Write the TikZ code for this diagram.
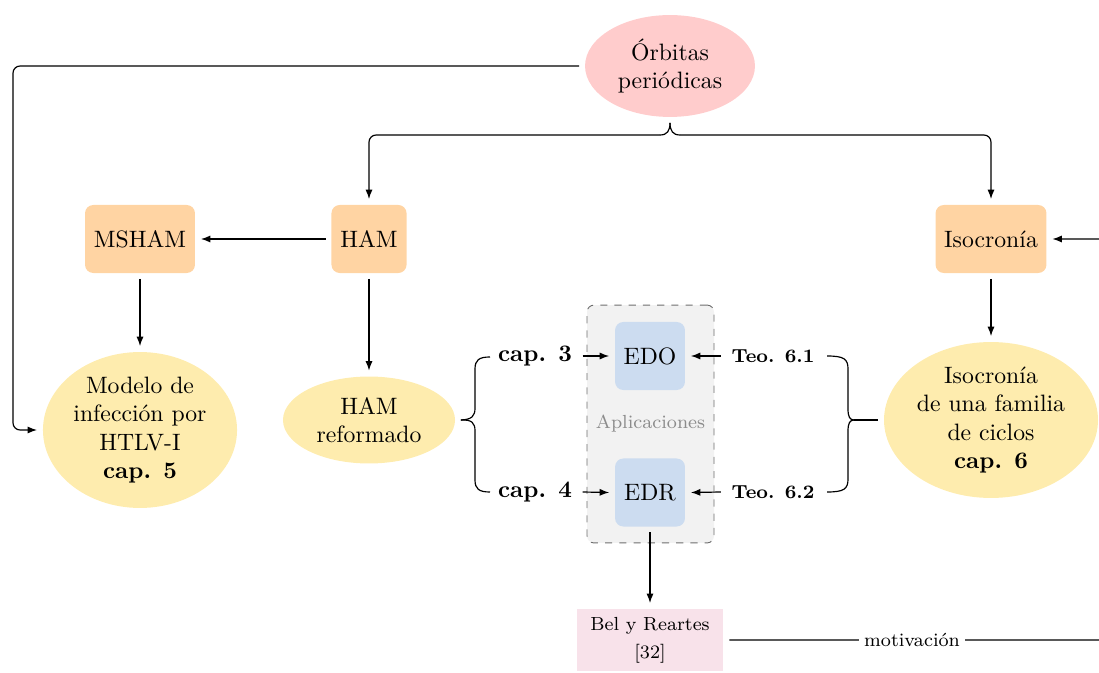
\documentclass[tikz,border=0pt]{standalone}
\usepackage{fontspec}
\usetikzlibrary{shapes.geometric,arrows.meta}
\definecolor{cpink}{RGB}{255,204,204}
\definecolor{corange}{RGB}{255,212,163}
\definecolor{cyellow}{RGB}{254,236,174}
\definecolor{cblue}{RGB}{204,220,240}
\definecolor{cbel}{RGB}{248,226,234}
\definecolor{cgroup}{RGB}{242,242,242}
\definecolor{cgborder}{RGB}{110,110,110}
\definecolor{cgtext}{RGB}{140,140,140}
\begin{document}
\begin{tikzpicture}[x=0.422pt,y=-0.422pt, line width=0.5pt,
  every node/.style={outer sep=2.5pt, align=center},
  arr/.style={-{Latex[length=4pt,width=3pt]}},
  obox/.style={rectangle, rounded corners=3.5pt, fill=corange, minimum height=28.7pt, inner sep=1pt},
  bbox/.style={rectangle, rounded corners=3.5pt, fill=cblue, minimum width=29.5pt, minimum height=28.7pt, inner sep=1pt},
  yell/.style={ellipse, fill=cyellow, inner sep=0pt},
  lbl/.style={inner sep=2pt},
  conn/.style={rounded corners=3pt}
]
\useasboundingbox (0,0) rectangle (1099,673);
\clip (0,0) rectangle (1099,673);

% nodes
\node[ellipse, fill=cpink, inner sep=0pt, minimum width=71.7pt, minimum height=43pt] (orb) at (670,66) {Órbitas\\periódicas};
\node[obox, minimum width=46.4pt] (msham) at (140,239) {MSHAM};
\node[obox, minimum width=31.7pt] (ham) at (369,239) {HAM};
\node[obox, minimum width=46.8pt] (iso) at (991,239) {Isocronía};
\node[yell, minimum width=81.9pt, minimum height=65.8pt] (model) at (140,430) {Modelo de\\infección por\\HTLV-I\\\textbf{cap. 5}};
\node[yell, minimum width=72.6pt, minimum height=36.7pt] (hamref) at (369,420) {HAM\\reformado};
\node[yell, minimum width=90.3pt, minimum height=65.8pt] (isof) at (991,420) {Isocronía\\de una familia\\de ciclos\\\textbf{cap. 6}};

\node[rectangle, rounded corners=3pt, draw=cgborder, dashed, line width=0.4pt, fill=cgroup, minimum width=53.6pt, minimum height=100.4pt, outer sep=0pt, text=cgtext, font=\footnotesize] (apl) at (650.5,424) {Aplicaciones};
\node[bbox] (edo) at (650,356) {EDO};
\node[bbox] (edr) at (650,492.5) {EDR};

\node[rectangle, fill=cbel, minimum width=62pt, minimum height=26.2pt, inner sep=1pt, font=\footnotesize] (bel) at (650,640) {Bel y Reartes\\[2.3pt]{[32]}};

\node[lbl] (cap3) at (535,356) {\textbf{cap. 3}};
\node[lbl] (cap4) at (535,492) {\textbf{cap. 4}};
\node[lbl, font=\footnotesize] (teo1) at (773,356) {\textbf{Teo. 6.1}};
\node[lbl, font=\footnotesize] (teo2) at (773,492) {\textbf{Teo. 6.2}};

% connectors
\draw[arr, conn] (orb.west) -- (13,66) -- (13,430) -- (model.west);

\draw (orb.south) .. controls (670,131) and (667,135) .. (660,135);
\draw (orb.south) .. controls (670,131) and (673,135) .. (680,135);
\draw[arr, conn] (660,135) -- (369,135) -- (ham.north);
\draw[arr, conn] (680,135) -- (991,135) -- (iso.north);

\draw[arr] (ham.west) -- (msham.east);
\draw[arr] (msham.south) -- (model.north);
\draw[arr] (ham.south) -- (hamref.north);
\draw[arr] (iso.south) -- (isof.north);

% left brace
\coordinate (lb1) at (490,357);
\coordinate (lb2) at (490,492);
\draw (lb1) .. controls (479,357) and (475,360) .. (475,369) -- (475,408)
      .. controls (475,416) and (472,419.5) .. (hamref.east);
\draw (lb2) .. controls (479,492) and (475,489) .. (475,480) -- (475,431)
      .. controls (475,423) and (472,419.5) .. (hamref.east);

% right brace
\coordinate (rb1) at (827,356);
\coordinate (rb2) at (827,492);
\coordinate (rtip) at (854,420);
\draw (rb1) .. controls (844,356) and (848,359) .. (848,369) -- (848,409)
      .. controls (848,417) and (850,420) .. (rtip);
\draw (rb2) .. controls (844,492) and (848,489) .. (848,479) -- (848,431)
      .. controls (848,423) and (850,420) .. (rtip);
\draw (rtip) -- (isof.west);

\draw[arr] (cap3.east) -- (edo.west);
\draw[arr] (cap4.east) -- (edr.west);
\draw[arr] (teo1.west) -- (edo.east);
\draw[arr] (teo2.west) -- (edr.east);

\draw[arr] (edr.south) -- (bel.north);

\draw[arr, conn] (bel.east) -- (1125,640) -- (1125,239) -- (iso.east);
\node[lbl, fill=white, font=\footnotesize, outer sep=0pt] (mot) at (912,640) {motivación};
\end{tikzpicture}
\end{document}
